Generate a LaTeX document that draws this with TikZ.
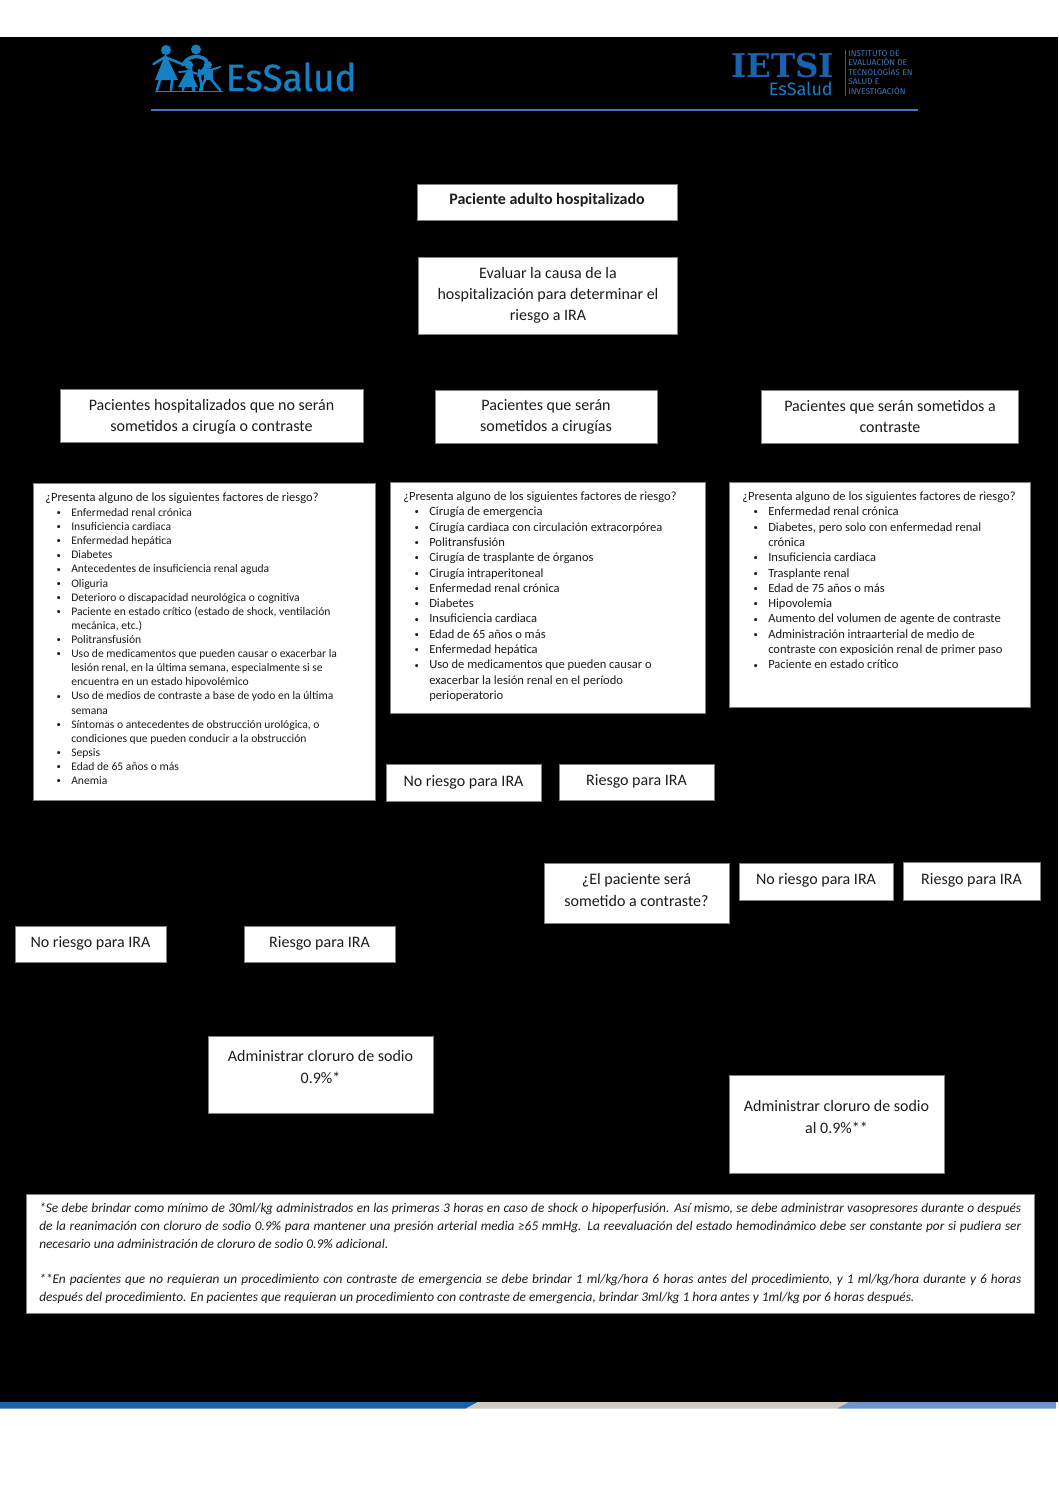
\documentclass[tikz,border=0pt]{standalone}
\usepackage{fontspec}
\setmainfont{Carlito}
\newfontfamily\logofont{Fira Sans}
\newfontfamily\slabfont{DejaVu Serif}
\usetikzlibrary{calc}
\definecolor{ink}{HTML}{1C1C1C}
\definecolor{edge}{HTML}{808080}
\definecolor{lblue}{HTML}{1580C4}
\definecolor{dblue}{HTML}{1A62AE}
\definecolor{pblue}{HTML}{3F76B5}
\definecolor{rulec}{HTML}{4472C4}
\definecolor{stripa}{HTML}{1B60A9}
\definecolor{stripb}{HTML}{CFC9C1}
\definecolor{stripc}{HTML}{6F94CC}
\newcommand{\bul}[1]{\hspace*{8.6pt}\makebox[10.9pt][l]{\raisebox{0.6pt}{\fontsize{6.5}{6.5}\selectfont\textbullet}}#1}
\newcommand{\cnt}[1]{\hspace*{19.5pt}#1}
\newcommand{\flowbox}[6]{%
  \node[boxst,minimum width=0.75pt*(#4-#2),minimum height=0.75pt*(#5-#3)] (#1) at ({(#2+#4)/2},{(#3+#5)/2}) {};
  #6}
\newcommand{\jl}[1]{\hbox to 736.5pt{#1}}
\tikzset{
  x=0.75pt,y=-0.75pt,
  boxst/.style={rectangle,fill=white,draw=edge,line width=0.4pt,inner sep=0pt},
  mainst/.style={text=ink,align=center,inner sep=0pt,font=\fontsize{12}{15.9}\selectfont},
  listst/.style={text=ink,align=left,inner sep=0pt,anchor=north west},
  logost/.style={fill=lblue,draw=none},
  limb/.style={draw=lblue,line width=1.9pt,line cap=round},
}
\begin{document}
\begin{tikzpicture}
\useasboundingbox (0,0) rectangle (1058,1497);
\fill[white] (0,0) rectangle (1058,1497);
\fill[black] (0,37) rectangle (1058,1402);
% bottom strip
\fill[stripa] (0,1402) -- (478,1402) -- (466,1408.5) -- (0,1408.5) -- cycle;
\fill[stripb] (478,1402) -- (849,1402) -- (837,1408.5) -- (466,1408.5) -- cycle;
\fill[stripc] (849,1402) -- (1056,1402) -- (1056,1408.5) -- (837,1408.5) -- cycle;
% header rule
\fill[rulec] (151,108.7) rectangle (918,110.7);
% EsSalud logo: family
\fill[logost] (166,50) circle (5);
\fill[logost] (165.5,54) -- (178,80) -- (155,80) -- cycle;
\draw[limb] (153.5,64) -- (165,57) -- (182,64);
\draw[limb] (160,80) -- (157,90) (172,80) -- (171,90);
\fill[logost] (196,49.5) circle (5);
\draw[limb,line width=2.6pt] (183,65) .. controls (187,56) and (199,54) .. (206,60) .. controls (208,66) and (204,70) .. (201,72);
\draw[limb] (190,62) -- (194,90) (199,70) -- (202,90);
\fill[logost] (189,65) circle (4.2);
\fill[logost] (188.5,68) -- (198,87) -- (178,87) -- cycle;
\draw[limb,line width=1.5pt] (179,72) -- (189,71) -- (198,74);
\draw[limb] (184,85) -- (183,90) (193,85) -- (193,90);
\fill[logost] (208,65) circle (4);
\fill[logost] (203.5,69) -- (212.5,69) -- (212.5,80) -- (203.5,80) -- cycle;
\draw[limb,line width=1.5pt] (198,76) -- (208,71) -- (220,67);
\draw[limb] (206,78) -- (200,90) (210,78) -- (220,90);
\draw[lblue,line width=0.9pt] (155,91.5) -- (223,91.5);
\node[anchor=base west,inner sep=0pt,text=lblue,xscale=0.97] (esname) at (225.5,91) {\logofont\addfontfeature{FakeBold=0.6}\fontsize{28.5}{30}\selectfont EsSalud};
% IETSI logo
\node[anchor=base west,inner sep=0pt,text=dblue,xscale=0.995] (ietsi) at (731,77) {\slabfont\bfseries\fontsize{24.5}{26}\selectfont IETSI};
\node[anchor=base east,inner sep=0pt,text=lblue] (ietsub) at (833,95.5) {\logofont\fontsize{13.5}{15}\selectfont EsSalud};
\draw[dblue,line width=0.7pt] (845,50) -- (845,96);
\node[anchor=north west,inner sep=0pt,text=pblue,align=left,font=\logofont\fontsize{6.3}{7.1}\selectfont] (ietlong) at (848,50) {INSTITUTO DE\\ EVALUACIÓN DE\\ TECNOLOGÍAS EN\\ SALUD E\\ INVESTIGACIÓN};
% top boxes
\flowbox{start}{417}{184}{677}{220}{\node[mainst,font=\fontsize{12}{14}\selectfont\bfseries] (startt) at (547,200.5) {Paciente adulto hospitalizado};}
\flowbox{eval}{418}{257}{677}{334}{\node[mainst] (evalt) at (548,295.5) {Evaluar la causa de la\\ hospitalización para determinar el\\ riesgo a IRA};}
\flowbox{grpa}{60}{389}{363}{442}{\node[mainst] (grpat) at (211.5,417) {Pacientes hospitalizados que no serán\\ sometidos a cirugía o contraste};}
\flowbox{grpb}{435}{390}{657}{443}{\node[mainst] (grpbt) at (546,417) {Pacientes que serán\\ sometidos a cirugías};}
\flowbox{grpc}{761}{390}{1018}{443}{\node[mainst] (grpct) at (890,416.5) {Pacientes que serán sometidos a\\ contraste};}
% lists
\flowbox{lista}{33}{483}{375}{800}{\node[listst,font=\fontsize{8.7}{10.58}\selectfont] (listat) at (45,492.5) {{\fontsize{9.4}{10.6}\selectfont ¿Presenta alguno de los siguientes factores de riesgo?}\\[0.7pt]
\bul{Enfermedad renal crónica}\\
\bul{Insuficiencia cardiaca}\\
\bul{Enfermedad hepática}\\
\bul{Diabetes}\\
\bul{Antecedentes de insuficiencia renal aguda}\\
\bul{Oliguria}\\
\bul{Deterioro o discapacidad neurológica o cognitiva}\\
\bul{Paciente en estado crítico (estado de shock, ventilación}\\
\cnt{mecánica, etc.)}\\
\bul{Politransfusión}\\
\bul{Uso de medicamentos que pueden causar o exacerbar la}\\
\cnt{lesión renal, en la última semana, especialmente si se}\\
\cnt{encuentra en un estado hipovolémico}\\
\bul{Uso de medios de contraste a base de yodo en la última}\\
\cnt{semana}\\
\bul{Síntomas o antecedentes de obstrucción urológica, o}\\
\cnt{condiciones que pueden conducir a la obstrucción}\\
\bul{Sepsis}\\
\bul{Edad de 65 años o más}\\
\bul{Anemia}};}
\flowbox{listb}{390}{482}{705}{713}{\node[listst,font=\fontsize{9.4}{11.48}\selectfont] (listbt) at (403,491.5) {¿Presenta alguno de los siguientes factores de riesgo?\\
\bul{Cirugía de emergencia}\\
\bul{Cirugía cardiaca con circulación extracorpórea}\\
\bul{Politransfusión}\\
\bul{Cirugía de trasplante de órganos}\\
\bul{Cirugía intraperitoneal}\\
\bul{Enfermedad renal crónica}\\
\bul{Diabetes}\\
\bul{Insuficiencia cardiaca}\\
\bul{Edad de 65 años o más}\\
\bul{Enfermedad hepática}\\
\bul{Uso de medicamentos que pueden causar o}\\
\cnt{exacerbar la lesión renal en el período}\\
\cnt{perioperatorio}};}
\flowbox{listc}{729}{482}{1030}{707}{\node[listst,font=\fontsize{9.4}{11.48}\selectfont] (listct) at (742,491.5) {¿Presenta alguno de los siguientes factores de riesgo?\\
\bul{Enfermedad renal crónica}\\
\bul{Diabetes, pero solo con enfermedad renal}\\
\cnt{crónica}\\
\bul{Insuficiencia cardiaca}\\
\bul{Trasplante renal}\\
\bul{Edad de 75 años o más}\\
\bul{Hipovolemia}\\
\bul{Aumento del volumen de agente de contraste}\\
\bul{Administración intraarterial de medio de}\\
\cnt{contraste con exposición renal de primer paso}\\
\bul{Paciente en estado crítico}};}
% outcomes
\flowbox{norb}{386}{764}{541}{801}{\node[mainst] (norbt) at (463.5,782.5) {No riesgo para IRA};}
\flowbox{sib}{559}{764}{714}{800}{\node[mainst] (sibt) at (636.5,781) {Riesgo para IRA};}
\flowbox{ask}{544}{863}{729}{923}{\node[mainst] (askt) at (636.5,890) {¿El paciente será\\ sometido a contraste?};}
\flowbox{noc}{739}{863}{893}{900}{\node[mainst] (noct) at (816,880) {No riesgo para IRA};}
\flowbox{sic}{903}{862}{1040}{900}{\node[mainst] (sict) at (971.5,880) {Riesgo para IRA};}
\flowbox{noa}{15}{926}{166}{962}{\node[mainst] (noat) at (90.5,943) {No riesgo para IRA};}
\flowbox{sia}{244}{926}{395}{962}{\node[mainst] (siat) at (319.5,943) {Riesgo para IRA};}
\flowbox{nacla}{208}{1036}{433}{1113}{\node[mainst] (naclat) at (320.5,1067) {Administrar cloruro de sodio\\ 0.9\%*};}
\flowbox{naclb}{729}{1075}{944}{1173}{\node[mainst] (naclbt) at (836.5,1117) {Administrar cloruro de sodio\\ al 0.9\%**};}
% footnotes
\flowbox{notes}{26}{1194}{1034}{1313}{\node[anchor=north west,inner sep=0pt,text=ink,font=\fontsize{10}{13.4}\selectfont\itshape] (notest) at (39,1203) {\vbox{\baselineskip=13.4pt
\jl{*Se debe brindar como mínimo de 30ml/kg administrados en las primeras 3 horas en caso de shock o hipoperfusión. Así mismo, se debe administrar vasopresores durante o después}
\jl{de la reanimación con cloruro de sodio 0.9\% para mantener una presión arterial media ≥65 mmHg. La reevaluación del estado hemodinámico debe ser constante por si pudiera ser}
\hbox{necesario una administración de cloruro de sodio 0.9\% adicional.}
\vskip 13pt
\jl{**En pacientes que no requieran un procedimiento con contraste de emergencia se debe brindar 1 ml/kg/hora 6 horas antes del procedimiento, y 1 ml/kg/hora durante y 6 horas}
\hbox{después del procedimiento. En pacientes que requieran un procedimiento con contraste de emergencia, brindar 3ml/kg 1 hora antes y 1ml/kg por 6 horas después.}}};}
\end{tikzpicture}
\end{document}
